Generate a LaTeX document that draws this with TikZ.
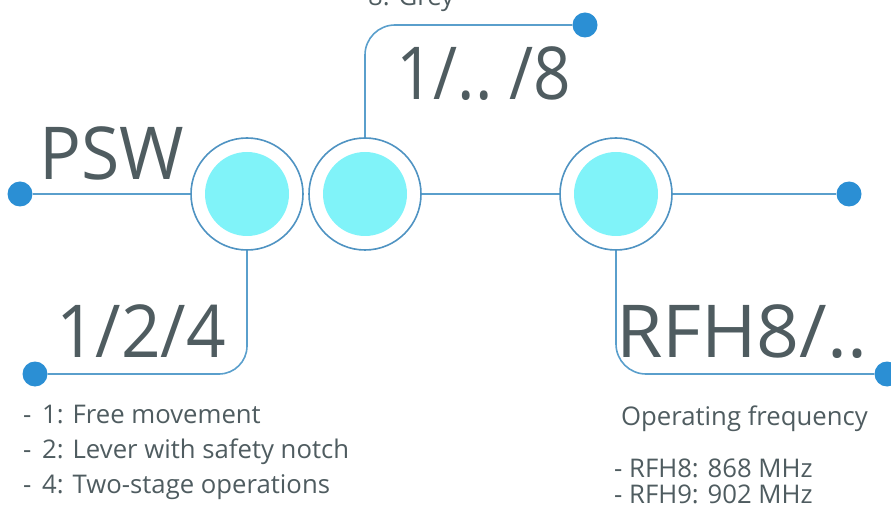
\documentclass[tikz,border=0pt]{standalone}
\usepackage{fontspec}
\setmainfont{Open Sans}
\definecolor{wire}{HTML}{5A9FCC}
\definecolor{ringc}{HTML}{4F93C2}
\definecolor{dotc}{HTML}{2B8FD4}
\definecolor{padc}{HTML}{80F3F9}
\definecolor{inkc}{HTML}{4F5C60}
\begin{document}
\begin{tikzpicture}[x=1pt,y=-1pt,
  wireline/.style={draw=wire,line width=1.6pt},
  ring/.style={circle,draw=ringc,line width=1.6pt,minimum size=112pt,inner sep=0pt},
  pad/.style={circle,fill=padc,minimum size=84pt,inner sep=0pt},
  enddot/.style={circle,fill=dotc,minimum size=25pt,inner sep=0pt},
  bigtxt/.style={anchor=base west,inner sep=0pt,text=inkc,font=\fontsize{73}{80}\selectfont},
  smalltxt/.style={anchor=base west,inner sep=0pt,text=inkc,font=\fontsize{25.7}{30}\selectfont}]
\useasboundingbox (0,0) rectangle (891,518);

% three switch rings with their filled pads
\node[pad] (p1) at (247,194) {};
\node[pad] (p2) at (365,194) {};
\node[pad] (p3) at (616,194) {};
\node[ring] (c1) at (247,194) {};
\node[ring] (c2) at (365,194) {};
\node[ring] (c3) at (616,194) {};

% terminal dots
\node[enddot] (dl)  at (20,194) {};
\node[enddot] (dbl) at (35,374) {};
\node[enddot] (dt)  at (585,25) {};
\node[enddot] (dr)  at (849,194) {};
\node[enddot] (dbr) at (887,374) {};

% wiring
\draw[wireline] (dl) -- (c1.west);
\draw[wireline,rounded corners=28pt] (c1.south) |- (dbl);
\draw[wireline,rounded corners=30pt] (c2.north) |- (dt);
\draw[wireline] (c2.east) -- (c3.west);
\draw[wireline] (c3.east) -- (dr);
\draw[wireline,rounded corners=30pt] (c3.south) |- (dbr);

% labels
\node[bigtxt] (tpsw) at (39,180) {\scalebox{0.955}[1]{PSW}};
\node[bigtxt] (tcol) at (396,100) {\scalebox{0.9}[1]{1/..\hspace{0.25em}/8}};
\node[bigtxt] (tlev) at (56,358) {\scalebox{0.95}[1]{1/2/4}};
\node[bigtxt] (trfh) at (616,357) {\scalebox{1.03}[1]{RFH8/..}};

\node[smalltxt] (tgrey) at (368,6) {8: Grey};

\node[smalltxt] (l1d) at (23,423) {-};
\node[smalltxt] (l1) at (42,423) {1: Free movement};
\node[smalltxt] (l2d) at (23,458) {-};
\node[smalltxt] (l2) at (42,458) {2: Lever with safety notch};
\node[smalltxt] (l3d) at (23,493) {-};
\node[smalltxt] (l3) at (42,493) {4: Two-stage operations};

\node[smalltxt] (fq) at (621,425) {Operating frequency};
\node[smalltxt] (f1) at (614,477) {- RFH8: 868 MHz};
\node[smalltxt] (f2) at (614,503) {- RFH9: 902 MHz};
\end{tikzpicture}
\end{document}
